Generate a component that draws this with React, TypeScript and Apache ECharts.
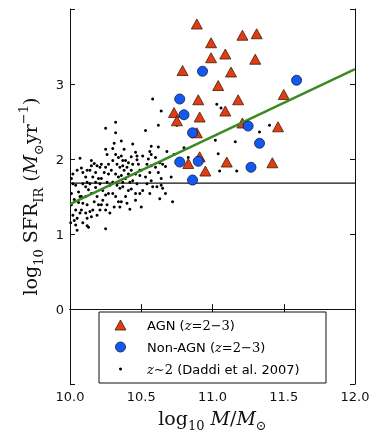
import React, { useEffect, useRef } from "react";
import * as echarts from "echarts";

const xTickValues = [10.0, 10.5, 11.0, 11.5, 12.0];
const yTickValues = [0, 1, 2, 3];

const agnPoints: number[][] = [
  [10.89, 3.8], [10.99, 3.55], [11.21, 3.65], [11.31, 3.67], [10.99, 3.35],
  [11.09, 3.4], [11.3, 3.33], [10.79, 3.18], [11.13, 3.16], [11.04, 2.98],
  [11.5, 2.86], [10.9, 2.79], [11.18, 2.79], [10.73, 2.62], [10.75, 2.51],
  [10.91, 2.56], [11.09, 2.64], [11.21, 2.48], [11.46, 2.43], [10.89, 2.35],
  [10.91, 2.03], [10.83, 1.94], [10.95, 1.84], [11.1, 1.96], [11.42, 1.95],
];

const nonAgnPoints: number[][] = [
  [10.93, 3.17], [11.59, 3.05], [10.77, 2.8], [10.8, 2.59], [10.86, 2.35],
  [11.25, 2.44], [11.33, 2.21], [10.77, 1.96], [10.9, 1.97], [11.27, 1.89],
  [10.86, 1.72],
];

const daddiPoints: number[][] = [
  [10.01, 1.74], [10.02, 1.67], [10.01, 1.54], [10.03, 1.46], [10.01, 1.39],
  [10.04, 1.32], [10.02, 1.25], [10.03, 1.18], [10.005, 1.15], [10.05, 1.05],
  [10.07, 2.01], [10.02, 1.8], [10.05, 1.85], [10.04, 1.65], [10.06, 1.56],
  [10.07, 1.5], [10.06, 1.42], [10.07, 1.28], [10.04, 1.12], [10.05, 1.21],
  [10.08, 1.88], [10.09, 1.82], [10.11, 1.76], [10.12, 1.85], [10.09, 1.67],
  [10.11, 1.63], [10.12, 1.69], [10.13, 1.59], [10.08, 1.5], [10.11, 1.5],
  [10.09, 1.41], [10.12, 1.39], [10.08, 1.32], [10.11, 1.28], [10.14, 1.3],
  [10.12, 1.21], [10.09, 1.15], [10.12, 1.11], [10.13, 1.09], [10.14, 1.85],
  [10.15, 1.98], [10.17, 1.94], [10.19, 1.91], [10.18, 1.82], [10.16, 1.76],
  [10.2, 1.74], [10.14, 1.67], [10.18, 1.62], [10.21, 1.67], [10.15, 1.54],
  [10.19, 1.5], [10.17, 1.43], [10.2, 1.39], [10.16, 1.32], [10.19, 1.25],
  [10.15, 1.23], [10.21, 1.32], [10.21, 1.89], [10.18, 1.69], [10.15, 1.91],
  [10.25, 2.41], [10.25, 2.13], [10.26, 2.06], [10.22, 1.93], [10.25, 1.89],
  [10.24, 1.82], [10.27, 1.8], [10.22, 1.74], [10.26, 1.69], [10.28, 1.65],
  [10.23, 1.58], [10.25, 1.52], [10.27, 1.54], [10.23, 1.45], [10.26, 1.39],
  [10.22, 1.39], [10.25, 1.32], [10.28, 1.28], [10.25, 1.07], [10.27, 1.93],
  [10.32, 2.49], [10.32, 2.35], [10.31, 2.21], [10.3, 2.14], [10.32, 2.06],
  [10.34, 2.02], [10.3, 1.98], [10.33, 1.93], [10.35, 1.89], [10.29, 1.85],
  [10.32, 1.8], [10.34, 1.76], [10.3, 1.69], [10.33, 1.65], [10.35, 1.61],
  [10.3, 1.54], [10.32, 1.5], [10.34, 1.43], [10.31, 1.36], [10.35, 1.36],
  [10.36, 2.24], [10.38, 2.13], [10.36, 2.04], [10.39, 1.98], [10.37, 1.91],
  [10.41, 1.95], [10.38, 1.85], [10.4, 1.89], [10.36, 1.78], [10.39, 1.74],
  [10.42, 1.69], [10.37, 1.63], [10.41, 1.58], [10.39, 1.5], [10.36, 1.43],
  [10.4, 1.41], [10.42, 1.33], [10.37, 1.98], [10.41, 1.8], [10.37, 1.69],
  [10.44, 2.2], [10.46, 2.09], [10.43, 2.03], [10.47, 1.99], [10.44, 1.93],
  [10.48, 1.93], [10.43, 1.85], [10.46, 1.8], [10.49, 1.78], [10.44, 1.71],
  [10.47, 1.67], [10.43, 1.6], [10.46, 1.54], [10.49, 1.54], [10.46, 1.45],
  [10.49, 1.85], [10.47, 2.04],
  [10.51, 1.58], [10.5, 1.36], [10.53, 2.38], [10.57, 2.17], [10.56, 2.1],
  [10.51, 2.04], [10.55, 2.0], [10.54, 1.93], [10.57, 1.91], [10.5, 1.85],
  [10.56, 1.82], [10.53, 1.76], [10.57, 1.71], [10.54, 1.67], [10.58, 1.63],
  [10.56, 1.54], [10.58, 2.8], [10.57, 2.06],
  [10.62, 2.45], [10.64, 2.64], [10.62, 2.16], [10.6, 2.02], [10.63, 1.95],
  [10.6, 1.89], [10.65, 1.93], [10.62, 1.82], [10.68, 2.1], [10.67, 1.9],
  [10.64, 1.74], [10.61, 1.63], [10.65, 1.61], [10.63, 1.47], [10.67, 1.54],
  [10.72, 1.43], [10.71, 1.76], [10.64, 1.65], [10.73, 2.06],
  [10.75, 2.45], [10.8, 2.15], [10.83, 2.02], [11.03, 2.73], [11.06, 2.68],
  [11.4, 2.45], [11.33, 2.36], [11.02, 2.25], [11.16, 2.23], [11.04, 2.07],
  [11.05, 1.84], [11.17, 1.84], [10.86, 1.71],
];

const fitLine: number[][] = [[10.0, 1.4], [12.0, 3.2]];
const thresholdLine: number[][] = [[10.0, 1.68], [12.0, 1.68]];

const legendLabels = [
  "{a|AGN (}{i|z}{m|=2−3}{a|)}",
  "{a|Non-AGN (}{i|z}{m|=2−3}{a|)}",
  "{i|z}{m|∼2}{a| (Daddi et al. 2007)}",
];

const AGN_FILL = "#de3e12";
const AGN_EDGE = "#4a1a08";
const NON_FILL = "#1458f2";
const NON_EDGE = "#0a1838";
const FIT_COLOR = "#3b8a22";

const mathRich = {
  r: { fontFamily: "DejaVu Serif", fontSize: 19, color: "#111" },
  i: { fontFamily: "DejaVu Serif", fontStyle: "italic", fontSize: 19, color: "#111" },
  s: { fontFamily: "DejaVu Serif", fontSize: 13, color: "#111", verticalAlign: "bottom", padding: [0, 0, -5, 0] },
  p: { fontFamily: "DejaVu Serif", fontSize: 13, color: "#111", verticalAlign: "top", padding: [-4, 0, 0, 0] },
};

const legendRich = {
  a: { fontFamily: "DejaVu Sans", fontSize: 13, color: "#111" },
  i: { fontFamily: "DejaVu Serif", fontStyle: "italic", fontSize: 13, color: "#444" },
  m: { fontFamily: "DejaVu Serif", fontSize: 13, color: "#444" },
};

export default function App() {
  const ref = useRef<HTMLDivElement>(null);
  useEffect(() => {
    const chart = echarts.init(ref.current!, null, { renderer: "svg" });
    const frame = { show: true, lineStyle: { color: "#111", width: 1 } };
    const tick = { show: true, inside: true, length: 5, lineStyle: { color: "#111" } };
    const tickFont = { fontFamily: "DejaVu Sans", fontSize: 13, color: "#111" };
    const xMin = xTickValues[0];
    const xMax = xTickValues[xTickValues.length - 1];
    const xInt = xTickValues[1] - xTickValues[0];
    const yMin = yTickValues[0] - 1;
    const yMax = yTickValues[yTickValues.length - 1] + 1;
    const yInt = yTickValues[1] - yTickValues[0];
    const legX = 99, legY = 312, rowH = 22;
    const rowY = [legY + 13, legY + 13 + rowH, legY + 13 + 2 * rowH];

    chart.setOption({
      animation: false,
      grid: { left: 70, right: 34, top: 9, bottom: 47, containLabel: false },
      xAxis: [
        {
          type: "value", min: xMin, max: xMax, interval: xInt, position: "bottom",
          axisLine: frame, axisTick: tick, splitLine: { show: false },
          axisLabel: { ...tickFont, margin: 6, formatter: (v: number) => v.toFixed(1) },
          name: "{r|log}{s|10}{r| }{i|M}{r|/}{i|M}{s|⊙}",
          nameLocation: "middle", nameGap: 22,
          nameTextStyle: { rich: mathRich, verticalAlign: "top" },
        },
        {
          type: "value", min: xMin, max: xMax, interval: xInt, position: "top",
          axisLine: frame, axisTick: tick, axisLabel: { show: false }, splitLine: { show: false },
        },
      ],
      yAxis: [
        {
          type: "value", min: yMin, max: yMax, interval: yInt, position: "left",
          axisLine: frame, axisTick: tick, splitLine: { show: false },
          axisLabel: {
            ...tickFont, margin: 6,
            formatter: (v: number) => (yTickValues.indexOf(v) >= 0 ? String(v) : ""),
          },
          name: "{r|log}{s|10}{r| SFR}{s|IR}{r| (}{i|M}{s|⊙}{r|yr}{p|−1}{r|)}",
          nameLocation: "middle", nameGap: 25, nameRotate: 90,
          nameTextStyle: { rich: mathRich },
        },
        {
          type: "value", min: yMin, max: yMax, interval: yInt, position: "right",
          axisLine: frame, axisTick: tick, axisLabel: { show: false }, splitLine: { show: false },
        },
      ],
      series: [
        {
          type: "line", data: thresholdLine, symbol: "none", silent: true,
          lineStyle: { color: "#111", width: 1.2 }, z: 1,
        },
        {
          name: "Daddi", type: "scatter", data: daddiPoints, symbol: "circle", symbolSize: 3,
          itemStyle: { color: "#000", opacity: 1 }, z: 2,
        },
        {
          name: "AGN", type: "scatter", data: agnPoints, symbol: "triangle", symbolSize: [11, 10],
          itemStyle: { color: AGN_FILL, borderColor: AGN_EDGE, borderWidth: 0.8, opacity: 1 }, z: 3,
        },
        {
          type: "line", data: fitLine, symbol: "none", silent: true,
          lineStyle: { color: FIT_COLOR, width: 2.5 }, z: 4,
        },
        {
          name: "Non-AGN", type: "scatter", data: nonAgnPoints, symbol: "circle", symbolSize: 10,
          itemStyle: { color: NON_FILL, borderColor: NON_EDGE, borderWidth: 0.8, opacity: 1 }, z: 5,
        },
      ],
      graphic: [
        {
          type: "rect", z: 100, shape: { x: legX, y: legY, width: 227, height: 71 },
          style: { fill: "#fff", stroke: "#111", lineWidth: 1 },
        },
        {
          type: "polygon", z: 101,
          shape: { points: [[legX + 16, rowY[0] + 5], [legX + 27, rowY[0] + 5], [legX + 21.5, rowY[0] - 5]] },
          style: { fill: AGN_FILL, stroke: AGN_EDGE, lineWidth: 0.8 },
        },
        {
          type: "circle", z: 101, shape: { cx: legX + 21.5, cy: rowY[1], r: 5 },
          style: { fill: NON_FILL, stroke: NON_EDGE, lineWidth: 0.8 },
        },
        {
          type: "circle", z: 101, shape: { cx: legX + 21.5, cy: rowY[2], r: 1.5 },
          style: { fill: "#000" },
        },
        ...legendLabels.map((t, k) => ({
          type: "text", z: 101, x: legX + 48, y: rowY[k],
          style: { text: t, rich: legendRich, verticalAlign: "middle", align: "left" },
        })),
      ],
    });
    return () => chart.dispose();
  }, []);
  return <div ref={ref} style={{ position: "fixed", left: 0, top: 0, width: 389, height: 437 }} />;
}
